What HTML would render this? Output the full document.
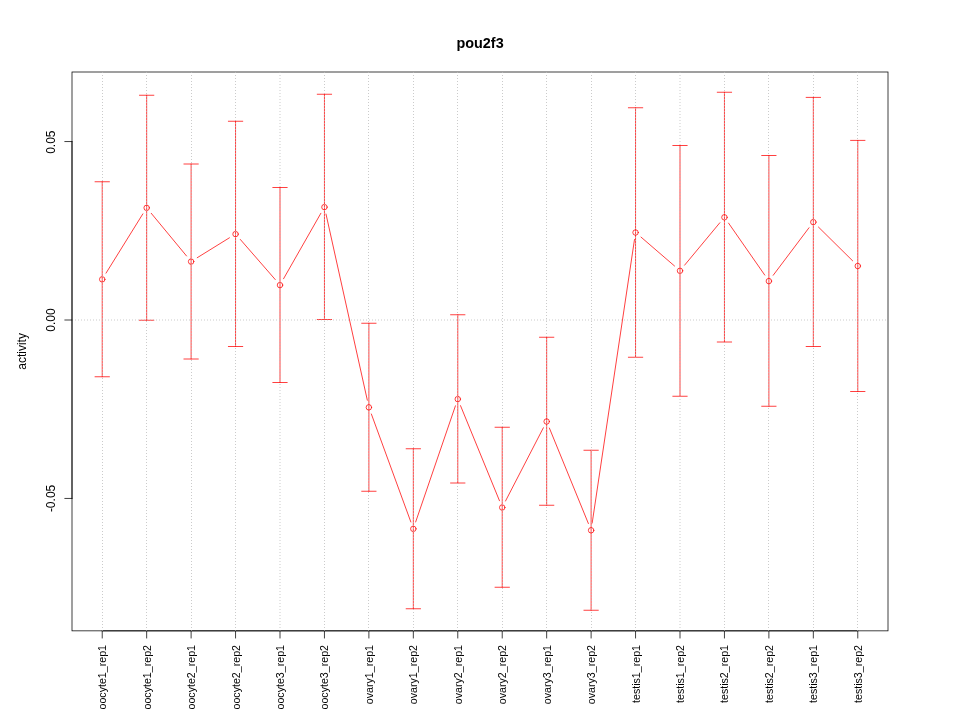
<!DOCTYPE html>
<html><head><meta charset="utf-8"><title>pou2f3</title>
<style>html,body{margin:0;padding:0;background:#fff}svg{display:block}text{font-family:"Liberation Sans",Arial,Helvetica,sans-serif;fill:#000}</style></head>
<body>
<div style="will-change:transform;width:960px;height:720px">
<svg width="960" height="720" viewBox="0 0 960 720">
<rect x="0" y="0" width="960" height="720" fill="#fff"/>
<g stroke="#ff0000" stroke-width="0.75" fill="none" stroke-linecap="round">
<circle cx="102.22" cy="279.35" r="2.75"/>
<circle cx="146.67" cy="207.85" r="2.75"/>
<circle cx="191.11" cy="261.60" r="2.75"/>
<circle cx="235.56" cy="234.10" r="2.75"/>
<circle cx="280.00" cy="285.10" r="2.75"/>
<circle cx="324.44" cy="207.10" r="2.75"/>
<circle cx="368.89" cy="407.35" r="2.75"/>
<circle cx="413.33" cy="528.85" r="2.75"/>
<circle cx="457.78" cy="399.10" r="2.75"/>
<circle cx="502.22" cy="507.50" r="2.75"/>
<circle cx="546.67" cy="421.50" r="2.75"/>
<circle cx="591.11" cy="530.30" r="2.75"/>
<circle cx="635.56" cy="232.50" r="2.75"/>
<circle cx="680.00" cy="270.80" r="2.75"/>
<circle cx="724.44" cy="217.30" r="2.75"/>
<circle cx="768.89" cy="281.10" r="2.75"/>
<circle cx="813.33" cy="222.10" r="2.75"/>
<circle cx="857.78" cy="266.00" r="2.75"/>
<line x1="106.02" y1="273.14" x2="142.87" y2="213.86"/>
<line x1="151.25" y1="213.30" x2="186.52" y2="255.95"/>
<line x1="197.23" y1="257.71" x2="229.43" y2="237.79"/>
<line x1="240.29" y1="239.43" x2="275.27" y2="279.57"/>
<line x1="283.56" y1="278.74" x2="320.88" y2="213.26"/>
<line x1="326.00" y1="214.03" x2="367.33" y2="400.22"/>
<line x1="371.36" y1="414.01" x2="410.86" y2="521.99"/>
<line x1="415.67" y1="521.94" x2="455.44" y2="405.81"/>
<line x1="460.51" y1="405.66" x2="499.49" y2="500.74"/>
<line x1="505.53" y1="501.00" x2="543.36" y2="427.80"/>
<line x1="549.39" y1="428.07" x2="588.39" y2="523.53"/>
<line x1="592.17" y1="523.08" x2="634.49" y2="239.52"/>
<line x1="641.01" y1="237.10" x2="674.55" y2="266.00"/>
<line x1="684.60" y1="265.16" x2="719.84" y2="222.74"/>
<line x1="728.56" y1="223.11" x2="764.77" y2="275.09"/>
<line x1="773.22" y1="275.25" x2="809.00" y2="227.75"/>
<line x1="818.46" y1="227.06" x2="852.66" y2="260.84"/>
<path d="M102.22 181.75V376.75M95.02 181.75H109.42M95.02 376.75H109.42"/>
<path d="M146.67 95.25V320.25M139.47 95.25H153.87M139.47 320.25H153.87"/>
<path d="M191.11 164.00V359.00M183.91 164.00H198.31M183.91 359.00H198.31"/>
<path d="M235.56 121.25V346.50M228.36 121.25H242.76M228.36 346.50H242.76"/>
<path d="M280.00 187.50V382.50M272.80 187.50H287.20M272.80 382.50H287.20"/>
<path d="M324.44 94.25V319.50M317.24 94.25H331.64M317.24 319.50H331.64"/>
<path d="M368.89 323.25V491.25M361.69 323.25H376.09M361.69 491.25H376.09"/>
<path d="M413.33 448.75V608.75M406.13 448.75H420.53M406.13 608.75H420.53"/>
<path d="M457.78 314.75V483.00M450.58 314.75H464.98M450.58 483.00H464.98"/>
<path d="M502.22 427.25V587.25M495.02 427.25H509.42M495.02 587.25H509.42"/>
<path d="M546.67 337.25V505.25M539.47 337.25H553.87M539.47 505.25H553.87"/>
<path d="M591.11 450.25V610.25M583.91 450.25H598.31M583.91 610.25H598.31"/>
<path d="M635.56 107.75V357.25M628.36 107.75H642.76M628.36 357.25H642.76"/>
<path d="M680.00 145.50V396.25M672.80 145.50H687.20M672.80 396.25H687.20"/>
<path d="M724.44 92.25V342.00M717.24 92.25H731.64M717.24 342.00H731.64"/>
<path d="M768.89 155.50V406.25M761.69 155.50H776.09M761.69 406.25H776.09"/>
<path d="M813.33 97.40V346.50M806.13 97.40H820.53M806.13 346.50H820.53"/>
<path d="M857.78 140.40V391.50M850.58 140.40H864.98M850.58 391.50H864.98"/>
</g>
<rect x="72.00" y="72.00" width="816.00" height="558.85" fill="none" stroke="#000" stroke-width="0.75"/>
<g stroke="#000" stroke-width="0.75" fill="none" stroke-linecap="round" stroke-linejoin="round">
<path d="M102.22 630.85H857.78M102.22 630.85v7.2M146.67 630.85v7.2M191.11 630.85v7.2M235.56 630.85v7.2M280.00 630.85v7.2M324.44 630.85v7.2M368.89 630.85v7.2M413.33 630.85v7.2M457.78 630.85v7.2M502.22 630.85v7.2M546.67 630.85v7.2M591.11 630.85v7.2M635.56 630.85v7.2M680.00 630.85v7.2M724.44 630.85v7.2M768.89 630.85v7.2M813.33 630.85v7.2M857.78 630.85v7.2"/>
</g>
<g stroke="#b9b9b9" stroke-width="0.75" fill="none" stroke-dasharray="1 2" stroke-linecap="butt">
<line x1="102.50" y1="72.00" x2="102.50" y2="630.85"/>
<line x1="146.50" y1="72.00" x2="146.50" y2="630.85"/>
<line x1="191.50" y1="72.00" x2="191.50" y2="630.85"/>
<line x1="235.50" y1="72.00" x2="235.50" y2="630.85"/>
<line x1="280.00" y1="72.00" x2="280.00" y2="630.85"/>
<line x1="324.50" y1="72.00" x2="324.50" y2="630.85"/>
<line x1="368.50" y1="72.00" x2="368.50" y2="630.85"/>
<line x1="413.50" y1="72.00" x2="413.50" y2="630.85"/>
<line x1="457.50" y1="72.00" x2="457.50" y2="630.85"/>
<line x1="502.50" y1="72.00" x2="502.50" y2="630.85"/>
<line x1="546.50" y1="72.00" x2="546.50" y2="630.85"/>
<line x1="591.50" y1="72.00" x2="591.50" y2="630.85"/>
<line x1="635.50" y1="72.00" x2="635.50" y2="630.85"/>
<line x1="680.00" y1="72.00" x2="680.00" y2="630.85"/>
<line x1="724.50" y1="72.00" x2="724.50" y2="630.85"/>
<line x1="768.50" y1="72.00" x2="768.50" y2="630.85"/>
<line x1="813.50" y1="72.00" x2="813.50" y2="630.85"/>
<line x1="857.50" y1="72.00" x2="857.50" y2="630.85"/>
<line x1="72.00" y1="320" x2="888.00" y2="320"/>
</g>
<g stroke="#000" stroke-width="0.75" fill="none" stroke-linecap="round" stroke-linejoin="round">
<path d="M72.00 141.55V498.45M72.00 141.55h-7.2M72.00 320.00h-7.2M72.00 498.45h-7.2"/>
</g>
<text x="480.1" y="47.6" font-size="14.4" font-weight="bold" text-anchor="middle">pou2f3</text>
<text transform="translate(54.8 142.15) rotate(-90)" font-size="12" text-anchor="middle">0.05</text>
<text transform="translate(54.8 320.00) rotate(-90)" font-size="12" text-anchor="middle">0.00</text>
<text transform="translate(54.8 498.45) rotate(-90)" font-size="12" text-anchor="middle">-0.05</text>
<text transform="translate(26.3 351.43) rotate(-90)" font-size="12" text-anchor="middle">activity</text>
<text transform="translate(106.22 645) rotate(-90)" font-size="10.65" text-anchor="end">oocyte1_rep1</text>
<text transform="translate(150.67 645) rotate(-90)" font-size="10.65" text-anchor="end">oocyte1_rep2</text>
<text transform="translate(195.11 645) rotate(-90)" font-size="10.65" text-anchor="end">oocyte2_rep1</text>
<text transform="translate(239.56 645) rotate(-90)" font-size="10.65" text-anchor="end">oocyte2_rep2</text>
<text transform="translate(284.00 645) rotate(-90)" font-size="10.65" text-anchor="end">oocyte3_rep1</text>
<text transform="translate(328.44 645) rotate(-90)" font-size="10.65" text-anchor="end">oocyte3_rep2</text>
<text transform="translate(372.89 645) rotate(-90)" font-size="10.65" text-anchor="end">ovary1_rep1</text>
<text transform="translate(417.33 645) rotate(-90)" font-size="10.65" text-anchor="end">ovary1_rep2</text>
<text transform="translate(461.78 645) rotate(-90)" font-size="10.65" text-anchor="end">ovary2_rep1</text>
<text transform="translate(506.22 645) rotate(-90)" font-size="10.65" text-anchor="end">ovary2_rep2</text>
<text transform="translate(550.67 645) rotate(-90)" font-size="10.65" text-anchor="end">ovary3_rep1</text>
<text transform="translate(595.11 645) rotate(-90)" font-size="10.65" text-anchor="end">ovary3_rep2</text>
<text transform="translate(639.56 645) rotate(-90)" font-size="10.65" text-anchor="end">testis1_rep1</text>
<text transform="translate(684.00 645) rotate(-90)" font-size="10.65" text-anchor="end">testis1_rep2</text>
<text transform="translate(728.44 645) rotate(-90)" font-size="10.65" text-anchor="end">testis2_rep1</text>
<text transform="translate(772.89 645) rotate(-90)" font-size="10.65" text-anchor="end">testis2_rep2</text>
<text transform="translate(817.33 645) rotate(-90)" font-size="10.65" text-anchor="end">testis3_rep1</text>
<text transform="translate(861.78 645) rotate(-90)" font-size="10.65" text-anchor="end">testis3_rep2</text>
</svg>
</div>
</body></html>
